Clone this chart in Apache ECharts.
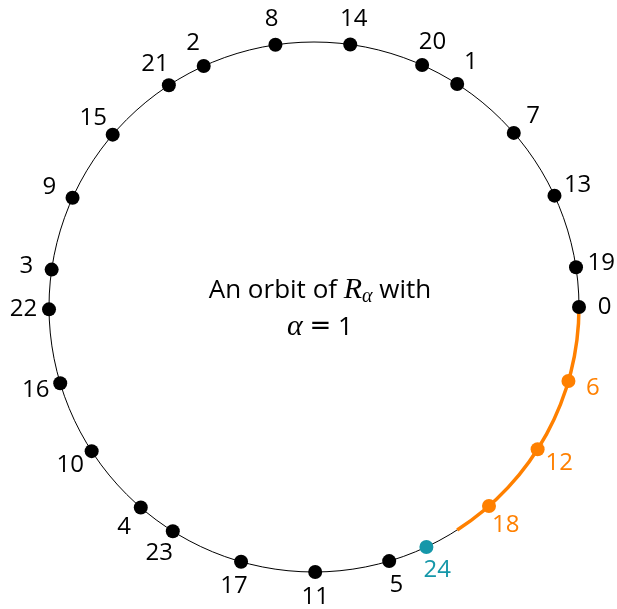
<!DOCTYPE html>
<html><head><meta charset="utf-8">
<script src="https://cdn.jsdelivr.net/npm/echarts@6/dist/echarts.min.js"></script>
<style>html,body{margin:0;padding:0;background:#fff}#c{width:617px;height:609px}</style>
</head><body><div id="c"></div>
<script>
// rotation R_alpha on the circle, orbit of 0: point k sits at angle k*alpha (mod 2π)
const alpha = 1;
const blackPoints = [0, 1, 2, 3, 4, 5, 7, 8, 9, 10, 11, 13, 14, 15, 16, 17, 19, 20, 21, 22, 23];
const orangePoints = [6, 12, 18];
const tealPoints = [24];
const arcCategories = ['inner', 'rim'];
const arcValues = ['-', alpha];   // arc [0, alpha) drawn clockwise from 0
const titleLines = ['{a|An orbit of }{m|R}{s|α}{a| with}', '{m|α}{a| }{e|=}{a| 1}'];

const TAU = 2 * Math.PI;
const LABEL_DIST = 25.5;
const FONT = '"Open Sans", "Noto Sans", sans-serif';

function pts(list, color) {
  return list.map(function (k) {
    const ang = (k * alpha) % TAU;
    return {
      value: [1, ang],
      name: String(k),
      label: { offset: [LABEL_DIST * Math.cos(ang), -LABEL_DIST * Math.sin(ang)], color: color }
    };
  });
}
function scatter(list, color) {
  return {
    type: 'scatter', coordinateSystem: 'polar', polarIndex: 0,
    symbolSize: 14, clip: false, z: 5,
    itemStyle: { color: color, opacity: 1 },
    label: {
      show: true, position: 'inside', formatter: '{b}',
      fontFamily: FONT, fontSize: 24, fontWeight: 'normal', align: 'center', verticalAlign: 'middle'
    },
    emphasis: { disabled: true },
    data: pts(list, color)
  };
}

const chart = echarts.init(document.getElementById('c'), null, { renderer: 'canvas' });
const hidden = { axisLine: { show: false }, axisTick: { show: false }, axisLabel: { show: false }, splitLine: { show: false } };
chart.setOption({
  animation: false,
  backgroundColor: '#fff',
  title: {
    left: 315, top: 267, textAlign: 'center',
    text: titleLines.join('\n'),
    textStyle: {
      fontWeight: 'normal',
      rich: {
        a: { fontFamily: FONT, fontSize: 26, fontWeight: 'normal', color: '#000', lineHeight: 37 },
        m: { fontFamily: '"Liberation Serif", serif', fontStyle: 'italic', fontWeight: 'normal', fontSize: 30, color: '#000', lineHeight: 37 },
        e: { fontFamily: '"DejaVu Sans", sans-serif', fontSize: 26, fontWeight: 'normal', color: '#000', lineHeight: 37 },
        s: { fontFamily: '"Liberation Serif", serif', fontStyle: 'italic', fontWeight: 'normal', fontSize: 20, color: '#000', lineHeight: 37, padding: [12, 0, 0, 0] }
      }
    }
  },
  polar: [
    { center: [314, 307], radius: 265 },
    { center: [314, 307], radius: 265 }
  ],
  angleAxis: [
    Object.assign({}, hidden, {
      polarIndex: 0, type: 'value', min: 0, max: TAU, startAngle: 0, clockwise: false,
      axisLine: { show: true, lineStyle: { color: '#000', width: 1 } }
    }),
    Object.assign({}, hidden, {
      polarIndex: 1, type: 'value', min: 0, max: TAU, startAngle: 0, clockwise: true
    })
  ],
  radiusAxis: [
    Object.assign({}, hidden, { polarIndex: 0, type: 'value', min: 0, max: 1 }),
    Object.assign({}, hidden, { polarIndex: 1, type: 'category', data: arcCategories, boundaryGap: false })
  ],
  series: [
    {
      type: 'bar', coordinateSystem: 'polar', polarIndex: 1, barWidth: 3.5, z: 3, clip: false,
      itemStyle: { color: '#ff8000', opacity: 1 }, emphasis: { disabled: true }, data: arcValues
    },
    scatter(blackPoints, '#000000'),
    scatter(orangePoints, '#ff8000'),
    scatter(tealPoints, '#1597a9')
  ]
});
</script>
</body></html>
